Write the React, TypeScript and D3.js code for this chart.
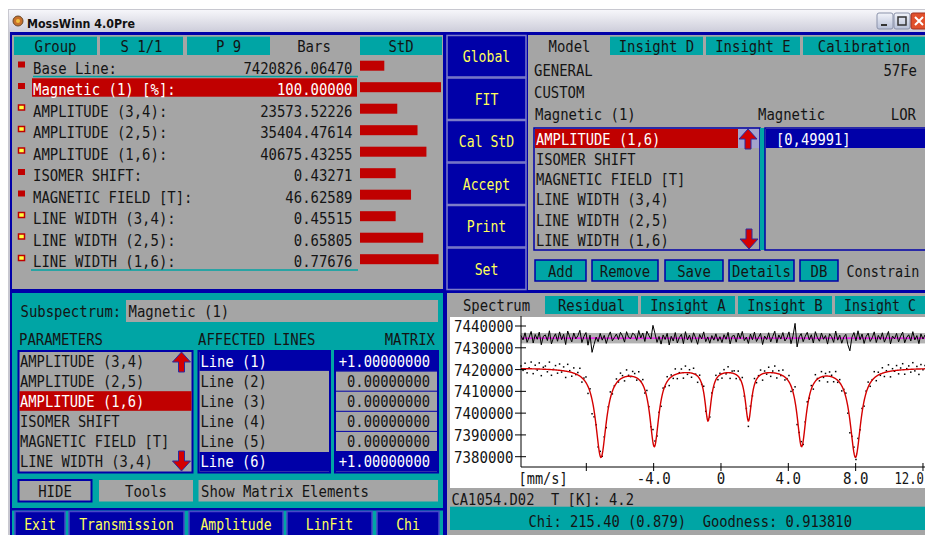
import React from "react";
import * as d3 from "d3";

// ---- chart / panel data ----
const LEFT_TABS = ["Group", "S 1/1", "P 9", "Bars", "StD"];
const PARAM_NAMES = [
  "Base Line:", "Magnetic (1) [%]:", "AMPLITUDE (3,4):", "AMPLITUDE (2,5):", "AMPLITUDE (1,6):",
  "ISOMER SHIFT:", "MAGNETIC FIELD [T]:", "LINE WIDTH (3,4):", "LINE WIDTH (2,5):", "LINE WIDTH (1,6):",
];
const PARAM_VALUES = [7420826.0647, 100.0, 23573.52226, 35404.47614, 40675.43255, 0.43271, 46.62589, 0.45515, 0.65805, 0.77676];
const PARAM_FREE = [false, false, true, true, true, false, false, true, true, true];
const PARAM_STD = [0.3, 1.0, 0.46, 0.71, 0.82, 0.44, 0.63, 0.44, 0.78, 0.97];

const MID_BUTTONS = ["Global", "FIT", "Cal StD", "Accept", "Print", "Set"];
const MODEL_TABS = ["Model", "Insight D", "Insight E", "Calibration"];
const MODEL_LIST = ["AMPLITUDE (1,6)", "ISOMER SHIFT", "MAGNETIC FIELD [T]", "LINE WIDTH (3,4)", "LINE WIDTH (2,5)", "LINE WIDTH (1,6)"];
const MODEL_BUTTONS = ["Add", "Remove", "Save", "Details", "DB"];

const SUB_PARAMS = ["AMPLITUDE (3,4)", "AMPLITUDE (2,5)", "AMPLITUDE (1,6)", "ISOMER SHIFT", "MAGNETIC FIELD [T]", "LINE WIDTH (3,4)"];
const AFFECTED = ["Line (1)", "Line (2)", "Line (3)", "Line (4)", "Line (5)", "Line (6)"];
const MATRIX = [1, 0, 0, 0, 0, 1];
const BOTTOM_BUTTONS = ["Exit", "Transmission", "Amplitude", "LinFit", "Chi"];

const PLOT_TABS = ["Spectrum", "Residual", "Insight A", "Insight B", "Insight C"];
const Y_TICKS = [7380000, 7390000, 7400000, 7410000, 7420000, 7430000, 7440000];
const X_TICKS = [-8, -4, 0, 4, 8, 12];
const X_TICK_LABELS = ["", "-4.0", "0", "4.0", "8.0", "12.0"];

// sextet line positions [mm/s]
const LINE_POS = [-7.13, -3.96, -0.77, 1.63, 4.79, 7.99];
// residuals per channel, in 1000 counts (read by eye)
const RESIDUAL = [
  1.2, -0.8, 2.5, -1.9, 0.4, 3.1, -2.2, 1.7, -0.5, 2.8, -3.0, 0.9, 1.5, -1.1, 3.4, -2.6, 0.2, 2.0, -1.4, 2.9,
  -0.7, 1.8, -2.9, 3.3, 0.6, -1.7, 2.4, -0.3, 1.1, 3.6, -2.0, 0.8, 2.6, -3.2, 1.4, -6.5, -2.8, 0.5, -1.6, 2.2,
  -0.9, 1.3, -2.4, 0.7, 2.9, -1.2, 0.3, 1.9, -0.6, 2.7, 1.0, -1.8, 3.0, 0.4, -0.2, 2.3, 1.6, -1.0, 3.5, 0.1,
  2.4, -1.5, 3.2, 1.2, -0.4, 5.9, 2.1, -1.9, 0.8, -2.7, 1.5, -0.6, 2.2, -3.1, 0.9, -1.3, 2.6, -2.2, 0.3, 1.8,
  -2.5, 3.0, -0.8, 1.4, -1.9, 2.5, 0.2, -2.8, 1.7, -0.3, 2.9, -1.6, 0.6, -2.3, 1.2, -0.9, 2.0, -1.4, 0.7, -2.0,
  1.6, -0.5, 2.7, -2.6, 0.9, 1.3, -1.8, 2.4, -0.2, 3.1, -1.1, 0.5, -2.4, 1.9, -0.7, 2.8, -1.5, 0.4, 2.2, -2.9,
  1.0, -0.6, 2.5, -1.7, 0.8, 3.2, -2.1, 1.5, -0.4, 2.6, -1.3, 0.2, 2.9, -2.5, 1.1, 6.8, -4.0, 0.6, 2.1, -1.6,
  0.9, 2.7, -0.8, 1.6, -2.2, 3.0, 0.3, -1.4, 2.4, -0.5, 1.2, -2.7, 2.0, 0.7, -1.9, 3.3, -0.9, 1.4, -2.3, 0.5,
  1.8, -3.0, -5.8, 0.4, 2.6, -1.2, 3.4, -0.7, 1.9, -2.4, 0.8, 2.3, -1.5, 0.2, 2.9, -2.0, 1.3, -0.6, 2.5, -1.8,
  0.6, 3.1, -2.6, 1.0, -0.3, 2.2, -1.7, 0.9, 2.8, -2.1, 0.4, 1.6, -1.3, 3.0, -0.8, 1.2, -2.5, 2.0, -0.4, 1.5,
];
const RES_LEVEL = 7434400;
const RES_BAND = 2400;
const V_MIN = -11.88;
const V_MAX = 12.12;

// ---- look ----
const FONT = "'DejaVu Sans Mono', 'Liberation Mono', monospace";
const CW = 8.4;
const ADV = 0.6021; // DejaVu Sans Mono advance per em
const GRAY = "#a5a5a5";
const TEAL = "#00a5a5";
const BLUE = "#0000a8";
const RED = "#c00000";
const YEL = "#ffff58";
const INK = "#141414";

type TxtProps = { x: number; y: number; s: string; anchor?: string; fill?: string; cw?: number; size?: number };
// monospace text squeezed horizontally to the bitmap font's cell width
const Txt = ({ x, y, s, anchor = "start", fill = INK, cw = CW, size = 16 }: TxtProps) => {
  const sx = cw / (ADV * size);
  return (
    <text transform={`translate(${x},${y}) scale(${sx.toFixed(4)},1)`} textAnchor={anchor} fill={fill}
      fontSize={size} fontFamily={FONT} style={{ whiteSpace: "pre" }}>{s}</text>
  );
};

const Arrow = ({ cx, y0, up }: { cx: number; y0: number; up: boolean }) => {
  // y0 = tip when up, tip at y0 + 20 when down
  const pts = up
    ? [[cx, y0], [cx + 9, y0 + 10], [cx + 3, y0 + 10], [cx + 3, y0 + 20], [cx - 3, y0 + 20], [cx - 3, y0 + 10], [cx - 9, y0 + 10]]
    : [[cx, y0 + 20], [cx + 9, y0 + 10], [cx + 3, y0 + 10], [cx + 3, y0], [cx - 3, y0], [cx - 3, y0 + 10], [cx - 9, y0 + 10]];
  return <polygon points={pts.map((p) => p.join(",")).join(" ")} fill="#d40000" stroke="#2a2aa0" strokeWidth={1} />;
};

const Tab = ({ x0, x1, y0, y1, s, active, cw = CW }: { x0: number; x1: number; y0: number; y1: number; s: string; active: boolean; cw?: number }) => (
  <g>
    {!active && <rect x={x0} y={y0} width={x1 - x0} height={y1 - y0} fill={TEAL} />}
    <Txt x={(x0 + x1) / 2} y={y1 - 3.5} s={s} anchor="middle" cw={cw} />
  </g>
);

export default function App() {
  const fmt5 = d3.format(".5f");

  const base = PARAM_VALUES[0];
  const amp = [PARAM_VALUES[4], PARAM_VALUES[3], PARAM_VALUES[2], PARAM_VALUES[2], PARAM_VALUES[3], PARAM_VALUES[4]];
  const wid = [PARAM_VALUES[9], PARAM_VALUES[8], PARAM_VALUES[7], PARAM_VALUES[7], PARAM_VALUES[8], PARAM_VALUES[9]];
  const model = (v: number) =>
    base - d3.sum(LINE_POS, (p, i) => { const g = wid[i] / 2; return (amp[i] * g * g) / ((v - p) * (v - p) + g * g); });

  const x = d3.scaleLinear().domain([V_MIN, V_MAX]).range([521, 925]);
  const y = d3.scaleLinear().domain([7380000, 7440000]).range([456.7, 326]);
  const bar = d3.scaleLinear().domain([0, 1]).range([0, 81]);

  const chan = RESIDUAL.map((r, i) => ({ v: V_MIN + (i * (V_MAX - V_MIN)) / (RESIDUAL.length - 1), r }));
  const fitPts = d3.range(0, 801).map((k) => V_MIN + (k * (V_MAX - V_MIN)) / 800);
  const fitPath = d3.line<number>().x((v) => x(v)).y((v) => y(model(v)))(fitPts) || "";
  const resPath = d3.line<{ v: number; r: number }>().x((d) => x(d.v)).y((d) => y(RES_LEVEL + d.r * 1000))(chan) || "";

  const leftTabX = [[14, 97], [100, 183], [187, 270], [271, 357], [360, 442]];
  const modelTabX = [[530, 609], [610, 703], [706, 800], [803, 925]];
  const plotTabX = [[450, 543], [545, 638], [641, 735], [738, 832], [835, 925]];
  const modelBtnX = [[535, 586], [592, 658], [665, 723], [729, 794], [800, 838]];
  const bottomBtnX = [[15, 65], [69, 184], [189, 283], [287, 372], [377, 439]];

  const rowB = (i: number) => 73.5 + 21.5 * i;
  const subTop = (i: number) => 351 + 20.1 * i;
  const modTop = (i: number) => 129 + 20.3 * i;

  return (
    <div style={{ position: "fixed", left: 0, top: 0 }}>
      <svg width={925} height={535} viewBox="0 0 925 535" style={{ display: "block", background: "#fff" }}>
        <defs>
          <linearGradient id="title" x1="0" y1="0" x2="0" y2="1">
            <stop offset="0" stopColor="#f6f6fa" />
            <stop offset="1" stopColor="#cdcdda" />
          </linearGradient>
          <linearGradient id="wbtn" x1="0" y1="0" x2="0" y2="1">
            <stop offset="0" stopColor="#f2f4fa" />
            <stop offset="1" stopColor="#b8c0d8" />
          </linearGradient>
        </defs>

        {/* window frame + title bar */}
        <rect x={8} y={9} width={930} height={540} fill="#c8c8d0" />
        <rect x={9} y={10} width={930} height={22} fill="url(#title)" />
        <circle cx={18} cy={21} r={5} fill="#c8702c" stroke="#6a4a2a" strokeWidth={1} />
        <circle cx={18} cy={21} r={2} fill="#f0c040" />
        <text x={27} y={27.5} fontFamily="'DejaVu Sans', sans-serif" fontWeight="bold" fontSize={13} fill="#111"
          textLength={108} lengthAdjust="spacingAndGlyphs">MossWinn 4.0Pre</text>
        <rect x={877} y={13} width={16} height={16} fill="url(#wbtn)" stroke="#8a92aa" rx={2} />
        <rect x={881} y={24} width={6} height={2} fill="#333" />
        <rect x={894} y={13} width={16} height={16} fill="url(#wbtn)" stroke="#8a92aa" rx={2} />
        <rect x={898} y={17} width={8} height={8} fill="none" stroke="#333" strokeWidth={1.5} />
        <rect x={911} y={13} width={18} height={16} fill="#e0502c" stroke="#a03020" rx={2} />
        <path d="M915,17 L923,25 M923,17 L915,25" stroke="#fff" strokeWidth={2} />

        {/* blue client area */}
        <rect x={10} y={32} width={920} height={510} fill={BLUE} />

        {/* ---- top-left parameter panel ---- */}
        <rect x={12} y={35} width={431} height={254} fill={GRAY} />
        {LEFT_TABS.map((s, i) => (
          <Tab key={s} x0={leftTabX[i][0]} x1={leftTabX[i][1]} y0={36.7} y1={55} s={s} active={i === 3} />
        ))}
        <rect x={32} y={rowB(1) - 16.7} width={325} height={18.4} fill={RED} />
        <line x1={33} x2={358} y1={76.5} y2={76.5} stroke={TEAL} strokeWidth={1.5} />
        <line x1={31} x2={358} y1={270} y2={270} stroke={TEAL} strokeWidth={1.5} />
        {PARAM_NAMES.map((s, i) => {
          const b = rowB(i);
          const hl = i === 1;
          return (
            <g key={s}>
              {PARAM_FREE[i]
                ? <rect x={18.5} y={b - 11.5} width={6} height={5} fill="#ffff40" stroke={RED} strokeWidth={1.5} />
                : <rect x={18} y={b - 12} width={7} height={6} fill={RED} />}
              <Txt x={33} y={b} s={s} fill={hl ? "#fff" : INK} />
              <Txt x={352.5} y={b} s={fmt5(PARAM_VALUES[i])} anchor="end" fill={hl ? "#fff" : INK} />
              <rect x={360} y={b - 12.8} width={bar(PARAM_STD[i])} height={10} fill={RED} />
            </g>
          );
        })}

        {/* ---- middle button column ---- */}
        {MID_BUTTONS.map((s, i) => {
          const t = 35 + i * 42.5;
          return (
            <g key={s}>
              <rect x={447} y={t + 0.5} width={79} height={41.5} fill={BLUE} stroke="#7c7cc8" strokeWidth={1.5} />
              <Txt x={486.5} y={t + 27} s={s} anchor="middle" fill={YEL} cw={7.9} />
            </g>
          );
        })}

        {/* ---- top-right model panel ---- */}
        <rect x={528} y={35} width={400} height={255} fill={GRAY} />
        {MODEL_TABS.map((s, i) => (
          <Tab key={s} x0={modelTabX[i][0]} x1={modelTabX[i][1]} y0={36.7} y1={55} s={s} active={i === 0} />
        ))}
        <Txt x={534} y={76} s="GENERAL" />
        <Txt x={917} y={76} s="57Fe" anchor="end" />
        <Txt x={534} y={97.5} s="CUSTOM" />
        <Txt x={535} y={120} s="Magnetic (1)" />
        <Txt x={758} y={120} s="Magnetic" />
        <Txt x={916} y={120} s="LOR" anchor="end" />

        <rect x={534} y={128} width={226} height={122} fill={GRAY} stroke={BLUE} strokeWidth={1.5} />
        <rect x={535} y={modTop(0)} width={203} height={19} fill={RED} />
        <rect x={738} y={modTop(0)} width={21} height={19} fill="#a4a4cc" />
        {MODEL_LIST.map((s, i) => (
          <Txt key={s} x={536} y={modTop(i) + 15.5} s={s} fill={i === 0 ? "#fff" : INK} cw={8.3} />
        ))}
        <Arrow cx={748} y0={129} up={true} />
        <Arrow cx={749} y0={229} up={false} />
        <rect x={760} y={128} width={5} height={122} fill={TEAL} />
        <rect x={765} y={128} width={165} height={122} fill={GRAY} stroke={BLUE} strokeWidth={1.5} />
        <rect x={766} y={129} width={165} height={19} fill={BLUE} />
        <Txt x={776} y={144.5} s="[0,49991]" fill="#fff" cw={8.3} />

        {MODEL_BUTTONS.map((s, i) => (
          <g key={s}>
            <rect x={modelBtnX[i][0]} y={260} width={modelBtnX[i][1] - modelBtnX[i][0]} height={21} fill={TEAL} stroke={BLUE} strokeWidth={1.5} />
            <Txt x={(modelBtnX[i][0] + modelBtnX[i][1]) / 2} y={276.5} s={s} anchor="middle" />
          </g>
        ))}
        <Txt x={846.5} y={276.5} s="Constrain" cw={8.1} />

        {/* ---- bottom-left constraint panel ---- */}
        <rect x={12} y={293} width={431} height={250} fill={TEAL} />
        <Txt x={20.5} y={317} s="Subspectrum:" />
        <rect x={126} y={300} width={312} height={22} fill={GRAY} />
        <Txt x={128.5} y={317} s="Magnetic (1)" />
        <Txt x={19} y={345} s="PARAMETERS" />
        <Txt x={198} y={345} s="AFFECTED LINES" />
        <Txt x={435} y={345} s="MATRIX" anchor="end" />

        <rect x={18.5} y={351} width={174} height={121.5} fill={GRAY} stroke={BLUE} strokeWidth={2} />
        <rect x={19.5} y={subTop(2)} width={172} height={19.6} fill={RED} />
        {SUB_PARAMS.map((s, i) => (
          <Txt key={s} x={20} y={subTop(i) + 15.8} s={s} fill={i === 2 ? "#fff" : INK} cw={8.3} />
        ))}
        <Arrow cx={181.5} y0={352} up={true} />
        <Arrow cx={181.5} y0={451} up={false} />

        <rect x={198.5} y={351} width={131.5} height={121.5} fill={GRAY} stroke={BLUE} strokeWidth={2} />
        <rect x={335} y={351} width={103} height={121.5} fill={GRAY} stroke={BLUE} strokeWidth={2} />
        {AFFECTED.map((s, i) => {
          const on = MATRIX[i] !== 0;
          const t = subTop(i);
          return (
            <g key={s}>
              {on && <rect x={199.5} y={t + 0.5} width={129.5} height={19.4} fill={BLUE} />}
              {on && <rect x={336} y={t + 0.5} width={101} height={19.4} fill={BLUE} />}
              {i > 0 && <line x1={336} x2={437} y1={t} y2={t} stroke={BLUE} strokeWidth={1} />}
              <Txt x={200.5} y={t + 15.8} s={s} fill={on ? "#fff" : INK} cw={8.3} />
              <Txt x={430} y={t + 15.8} s={on ? "+" + MATRIX[i].toFixed(8) : MATRIX[i].toFixed(8)} anchor="end" fill={on ? "#fff" : INK} cw={8.3} />
            </g>
          );
        })}

        <rect x={18.5} y={480} width={73} height={21.5} fill={GRAY} stroke={BLUE} strokeWidth={2} />
        <Txt x={55} y={496.5} s="HIDE" anchor="middle" />
        <rect x={99} y={480} width={94} height={21.5} fill={GRAY} />
        <Txt x={146} y={496.5} s="Tools" anchor="middle" />
        <rect x={198.5} y={480} width={239.5} height={21.5} fill={GRAY} />
        <Txt x={201} y={496.5} s="Show Matrix Elements" />

        <rect x={12} y={508} width={431} height={2.5} fill={BLUE} />
        {BOTTOM_BUTTONS.map((s, i) => (
          <g key={s}>
            <rect x={bottomBtnX[i][0]} y={511.5} width={bottomBtnX[i][1] - bottomBtnX[i][0]} height={30} fill={BLUE} stroke="#4848c8" strokeWidth={1.5} />
            <Txt x={(bottomBtnX[i][0] + bottomBtnX[i][1]) / 2} y={530} s={s} anchor="middle" fill={YEL} cw={7.9} />
          </g>
        ))}

        {/* ---- bottom-right spectrum panel ---- */}
        <rect x={447} y={293} width={480} height={250} fill={GRAY} />
        {PLOT_TABS.map((s, i) => (
          <Tab key={s} x0={plotTabX[i][0]} x1={plotTabX[i][1]} y0={296} y1={314} s={s} active={i === 0}
            cw={i === 4 ? 8.0 : CW} />
        ))}
        <rect x={450} y={317} width={478} height={171} fill="#fff" />

        {/* residual band */}
        <rect x={521} y={y(RES_LEVEL + RES_BAND)} width={404} height={y(RES_LEVEL - RES_BAND) - y(RES_LEVEL + RES_BAND)} fill="#b2b2b2" />
        <line x1={521} x2={925} y1={y(RES_LEVEL)} y2={y(RES_LEVEL)} stroke="#ff00ff" strokeWidth={1.2} />
        <path d={resPath} fill="none" stroke="#000" strokeWidth={1} />

        {/* data points + fit */}
        {chan.map((d, i) => (
          <rect key={i} x={x(d.v) - 0.75} y={y(model(d.v) + d.r * 1000) - 0.75} width={1.5} height={1.5} fill="#000" />
        ))}
        <path d={fitPath} fill="none" stroke="#d40000" strokeWidth={1.4} />

        {/* axes */}
        <line x1={521} x2={521} y1={316} y2={467} stroke="#000" strokeWidth={1} />
        <line x1={521} x2={925} y1={467} y2={467} stroke="#000" strokeWidth={1} />
        {Y_TICKS.map((t) => (
          <g key={t}>
            <line x1={515} x2={526} y1={y(t)} y2={y(t)} stroke="#000" strokeWidth={1} />
            <Txt x={513.5} y={y(t) + 6} s={String(t)} anchor="end" cw={8.5} />
          </g>
        ))}
        {X_TICKS.map((t, i) => {
          const last = i === X_TICKS.length - 1;
          return (
            <g key={t}>
              <line x1={x(t)} x2={x(t)} y1={463} y2={471} stroke="#000" strokeWidth={1} />
              {X_TICK_LABELS[i] && (
                <Txt x={last ? 924 : x(t)} y={484} s={X_TICK_LABELS[i]} anchor={last ? "end" : "middle"} cw={last ? 7.4 : 8.5} />
              )}
            </g>
          );
        })}
        <Txt x={518.5} y={484} s="[mm/s]" cw={8.2} />

        {/* status rows */}
        <Txt x={451.5} y={505} s="CA1054.D02  T [K]: 4.2" cw={8.3} />
        <rect x={450} y={506.7} width={478} height={23.3} fill={TEAL} />
        <Txt x={528.5} y={527} s="Chi: 215.40 (0.879)  Goodness: 0.913810" cw={8.3} />
      </svg>
    </div>
  );
}
